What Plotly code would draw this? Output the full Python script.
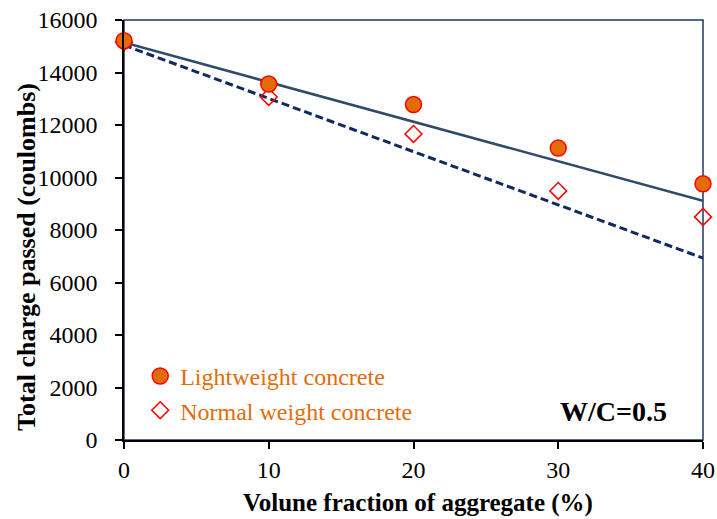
import plotly.graph_objects as go

x_vals = [0, 10, 20, 30, 40]
lightweight = [15210, 13560, 12780, 11120, 9760]
normal_weight = [15150, 13070, 11660, 9490, 8500]

fit_x = [0, 40]
lightweight_fit = [15140, 9110]
normal_fit = [15040, 6930]

x_ticks = [0, 10, 20, 30, 40]
y_ticks = [0, 2000, 4000, 6000, 8000, 10000, 12000, 14000, 16000]
y_tick_text = [str(v) for v in y_ticks]
x_tick_text = [str(v) for v in x_ticks]

serif = "Liberation Serif"

fig = go.Figure()
fig.add_trace(go.Scatter(x=fit_x, y=lightweight_fit, mode="lines",
                         line=dict(color="#2F4A6A", width=2.5), showlegend=False, cliponaxis=False))
fig.add_trace(go.Scatter(x=fit_x, y=normal_fit, mode="lines",
                         line=dict(color="#0F2B5E", width=3, dash="8px,4px"), showlegend=False, cliponaxis=False))
fig.add_trace(go.Scatter(x=x_vals, y=normal_weight, mode="markers", name="Normal weight concrete",
                         marker=dict(symbol="diamond-open", size=13, color="#FF0000", line=dict(width=1.5, color="#FF0000")),
                         cliponaxis=False, legendrank=2, legendgroup="b"))
fig.add_trace(go.Scatter(x=x_vals, y=lightweight, mode="markers", name="Lightweight concrete",
                         marker=dict(symbol="circle", size=16, color="#E36C0A", line=dict(width=1.5, color="#FF0000")),
                         cliponaxis=False, legendrank=1, legendgroup="a"))

fig.add_annotation(x=0.846, y=0.069, xref="paper", yref="paper", text="<b>W/C=0.5</b>",
                   showarrow=False, xanchor="center", yanchor="middle",
                   font=dict(family=serif, size=28, color="black"))
fig.add_annotation(x=-0.1675, y=0.436, xref="paper", yref="paper", text="<b>Total charge passed (coulombs)</b>",
                   showarrow=False, xanchor="center", yanchor="middle", textangle=-90,
                   font=dict(family=serif, size=26, color="black"))
fig.add_annotation(x=0.508, y=-0.15, xref="paper", yref="paper", text="<b>Volune fraction of aggregate (%)</b>",
                   showarrow=False, xanchor="center", yanchor="middle",
                   font=dict(family=serif, size=25, color="black"))

fig.add_shape(type="rect", xref="paper", yref="paper", x0=0, y0=0, x1=1, y1=1,
              line=dict(color="#1F3864", width=1.5), layer="below")

fig.update_layout(
    width=717, height=519,
    margin=dict(l=124, r=14, t=20, b=79, autoexpand=False),
    plot_bgcolor="white", paper_bgcolor="white",
    font=dict(family=serif, size=23, color="black"),
    legend=dict(x=0.028, y=0.205, xanchor="left", yanchor="top",
                bgcolor="rgba(0,0,0,0)", font=dict(family=serif, size=24, color="#E36C0A"),
                traceorder="grouped", tracegroupgap=0, itemwidth=30),
    showlegend=True,
)
fig.update_xaxes(range=[0, 40], tickvals=x_ticks, ticktext=x_tick_text, ticks="outside", ticklen=7, tickwidth=1.5,
                 tickcolor="black", showline=True, linecolor="black", linewidth=1.5,
                 showgrid=False, zeroline=False, automargin=False,
                 tickfont=dict(family=serif, size=24))
fig.update_yaxes(range=[0, 16000], tickvals=y_ticks, ticktext=y_tick_text, ticks="outside", ticklen=7, tickwidth=1.5,
                 tickcolor="black", showline=True, linecolor="black", linewidth=1.5,
                 showgrid=False, zeroline=False, automargin=False, ticklabelstandoff=13,
                 tickfont=dict(family=serif, size=24))

fig.write_html("out.html")
